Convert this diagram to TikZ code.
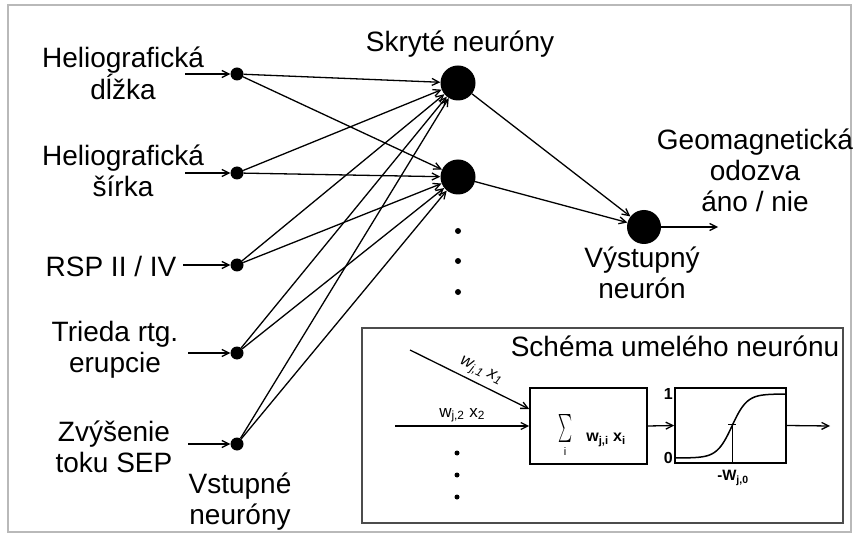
\documentclass[tikz,border=0pt]{standalone}
\usepackage{graphicx}
\usepackage{fontspec}
\setmainfont{Liberation Sans}
\usetikzlibrary{arrows.meta}
\begin{document}
\begin{tikzpicture}[x=1pt,y=-1pt,
  lab/.style={font=\fontsize{28}{31}\selectfont, align=center, inner sep=0pt},
  small/.style={font=\fontsize{17}{17}\selectfont, inner sep=0pt},
  indot/.style={circle, fill=black, inner sep=0pt, minimum size=13pt},
  hid/.style={circle, fill=black, inner sep=0pt, minimum size=35pt},
  tdot/.style={circle, fill=black, inner sep=0pt, minimum size=6pt},
  con/.style={-{Straight Barb[length=7pt,width=7pt]}, line width=1.3pt},
  box/.style={draw=black, line width=1.6pt, inner sep=0pt}]
\useasboundingbox (0,0) rectangle (859,537);
\draw[gray!55, line width=2pt] (8,5) rectangle (851,532);

% labels
\node[lab] (l1) at (123,73) {Heliografická\\dĺžka};
\node[lab] (l2) at (123,171) {Heliografická\\šírka};
\node[lab] (l3) at (111,266) {RSP II / IV};
\node[lab] (l4) at (115,350) {Trieda rtg.\\erupcie};
\node[lab] (l5) at (114,447) {Zvýšenie\\toku SEP};
\node[lab] (l6) at (240,502) {Vstupné\\neuróny};
\node[lab] (l7) at (460,44) {Skryté neuróny};
\node[lab] (l8) at (755,170) {Geomagnetická\\odozva\\áno / nie};
\node[lab] (l9) at (642,273) {Výstupný\\neurón};

% input neurons
\node[indot] (i1) at (237,74) {};
\node[indot] (i2) at (237,173) {};
\node[indot] (i3) at (237,265) {};
\node[indot] (i4) at (237,353) {};
\node[indot] (i5) at (237,444) {};
\coordinate (s1) at (185,74);
\coordinate (s2) at (185,173);
\coordinate (s3) at (183,265);
\coordinate (s4) at (188,353);
\coordinate (s5) at (188,444);
\foreach \k in {1,...,5} {\draw[con] (s\k) -- (i\k);}

% hidden neurons
\node[hid] (h1) at (458,83) {};
\node[hid] (h2) at (458,177) {};
\node[tdot] (d1) at (458,231) {};
\node[tdot] (d2) at (458,261) {};
\node[tdot] (d3) at (458,292) {};
\foreach \k in {1,...,5} {\draw[con] (i\k) -- (h1); \draw[con] (i\k) -- (h2);}

% output neuron
\node[hid, minimum size=34pt] (o) at (644,227) {};
\coordinate (oe) at (718,227);
\draw[con] (h1) -- (o);
\draw[con] (h2) -- (o);
\draw[con] (o) -- (oe);

% inset
\draw[black!70, line width=2.2pt] (362,328) rectangle (843,523);
\node[lab] (tt) at (675,346) {Schéma umelého neurónu};
\node[box, minimum width=117pt, minimum height=76pt] (sb) at (588.5,426) {};
\node[box, minimum width=111pt, minimum height=75pt] (sg) at (730.5,425.5) {};
\coordinate (w1s) at (410,350);
\coordinate (w2s) at (395,426);
\coordinate (oute) at (830,426);
\draw[con] (w1s) -- node[pos=0.55, sloped, above=4pt, small, font=\fontsize{17}{17}\selectfont\itshape] {w\textsubscript{j,1} x\textsubscript{1}} ([yshift=17pt]sb.west);
\draw[con] (w2s) -- node[pos=0.5, above=3pt, small] {w\textsubscript{j,2} x\textsubscript{2}} (sb.west);
\node[tdot, minimum size=5pt] (e1) at (457,453) {};
\node[tdot, minimum size=5pt] (e2) at (457,475) {};
\node[tdot, minimum size=5pt] (e3) at (457,497) {};
\draw[con] (sb.east) -- (sg.west);
\draw[con] (sg.east) -- (oute);

\node[inner sep=0pt] (sum) at (565,428) {\resizebox{14pt}{21pt}{$\sum$}};
\node[inner sep=0pt, font=\fontsize{11}{11}\selectfont] (si) at (565,452) {i};
\node[small, font=\fontsize{16}{16}\selectfont\bfseries] (wx) at (606,440) {w\textsubscript{j,i} x\textsubscript{i}};

% sigmoid
\draw[line width=1.5pt] plot[domain=676:785, samples=80] (\x, {458-64/(1+exp(-(\x-732)/7.5))});
\draw[line width=0.8pt] (732,424) -- (732,463);
\draw[line width=0.8pt] (728,424) -- (736,424);
\node[small, font=\fontsize{16}{16}\selectfont\bfseries, anchor=east] (one) at (673,394) {1};
\node[small, font=\fontsize{16}{16}\selectfont\bfseries, anchor=east] (zero) at (673,458) {0};
\node[small, font=\fontsize{15}{15}\selectfont\bfseries] (wj0) at (733,478) {-W\textsubscript{j,0}};
\end{tikzpicture}
\end{document}
